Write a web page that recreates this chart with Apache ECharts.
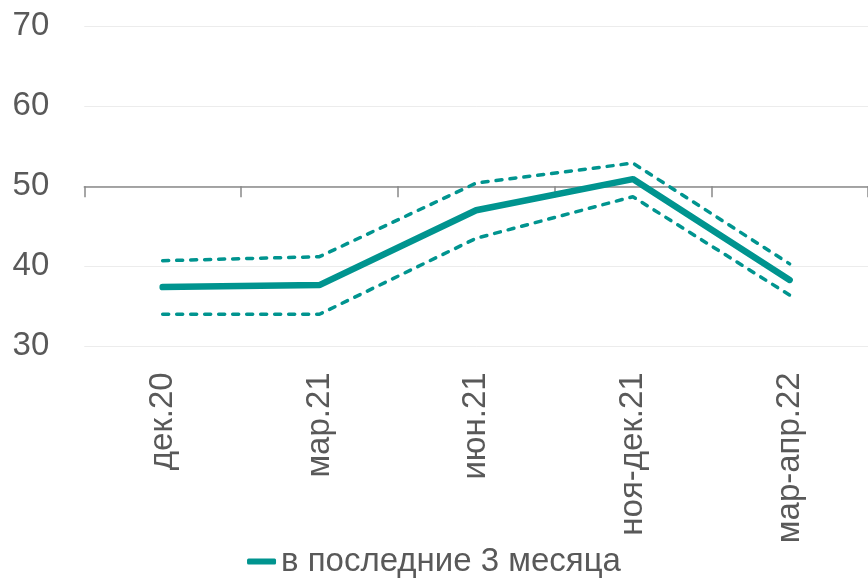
<!DOCTYPE html>
<html>
<head>
<meta charset="utf-8">
<script src="https://cdn.jsdelivr.net/npm/echarts@6/dist/echarts.min.js"></script>
<style>
html,body{margin:0;padding:0;background:#fff;}
#chart{width:868px;height:579px;}
</style>
</head>
<body>
<div id="chart"></div>
<script>
const categories = ['дек.20', 'мар.21', 'июн.21', 'ноя-дек.21', 'мар-апр.22'];
const mainName = 'в последние 3 месяца';
const mainValues = [37.4, 37.65, 47.0, 50.9, 38.3];
const upperValues = [40.7, 41.2, 50.4, 52.9, 40.3];
const lowerValues = [34.0, 34.0, 43.5, 48.7, 36.4];
const yMin = 30, yMax = 70, yStep = 10;

const teal = '#00948F';
const txt = '#595959';
const font = 'Liberation Sans';

const chart = echarts.init(document.getElementById('chart'), null, {renderer: 'canvas'});
chart.setOption({
  animation: false,
  backgroundColor: '#ffffff',
  textStyle: {fontFamily: font},
  grid: [
    {left: 84.3, right: -4, top: 26.3, bottom: 232.7},
    {left: 84.3, right: -4, top: 26.3, bottom: 392.7}
  ],
  legend: {
    data: [mainName],
    bottom: -4,
    left: 'center',
    icon: 'roundRect',
    itemWidth: 29,
    itemHeight: 6,
    textStyle: {fontFamily: font, fontSize: 33, color: txt}
  },
  xAxis: [
    {
      type: 'category', gridIndex: 0, data: categories, boundaryGap: true,
      axisLine: {show: false}, axisTick: {show: false},
      axisLabel: {rotate: 90, margin: 26, fontFamily: font, fontSize: 33, color: txt}
    },
    {
      type: 'category', gridIndex: 1, data: categories, boundaryGap: true,
      axisLine: {show: true, lineStyle: {color: '#898989', width: 1.5}},
      axisTick: {show: true, length: 11, lineStyle: {color: '#898989', width: 1.5}},
      axisLabel: {show: false}
    }
  ],
  yAxis: [
    {
      type: 'value', gridIndex: 0, min: yMin, max: yMax, interval: yStep,
      axisLine: {show: false}, axisTick: {show: false},
      splitLine: {show: true, lineStyle: {color: '#ececec', width: 1}},
      axisLabel: {margin: 35, fontFamily: font, fontSize: 33, color: txt}
    },
    {
      type: 'value', gridIndex: 1, min: 50, max: 70, show: false
    }
  ],
  series: [
    {
      name: 'upper', type: 'line', data: upperValues, xAxisIndex: 0, yAxisIndex: 0,
      showSymbol: false, symbol: 'none', z: 3,
      lineStyle: {color: teal, width: 3.5, type: [6, 8], cap: 'round'}
    },
    {
      name: 'lower', type: 'line', data: lowerValues, xAxisIndex: 0, yAxisIndex: 0,
      showSymbol: false, symbol: 'none', z: 3,
      lineStyle: {color: teal, width: 3.5, type: [6, 8], cap: 'round'}
    },
    {
      name: mainName, type: 'line', data: mainValues, xAxisIndex: 0, yAxisIndex: 0,
      showSymbol: false, symbol: 'none', z: 4, color: teal,
      lineStyle: {color: teal, width: 6.5, cap: 'round'}
    }
  ]
});
</script>
</body>
</html>
